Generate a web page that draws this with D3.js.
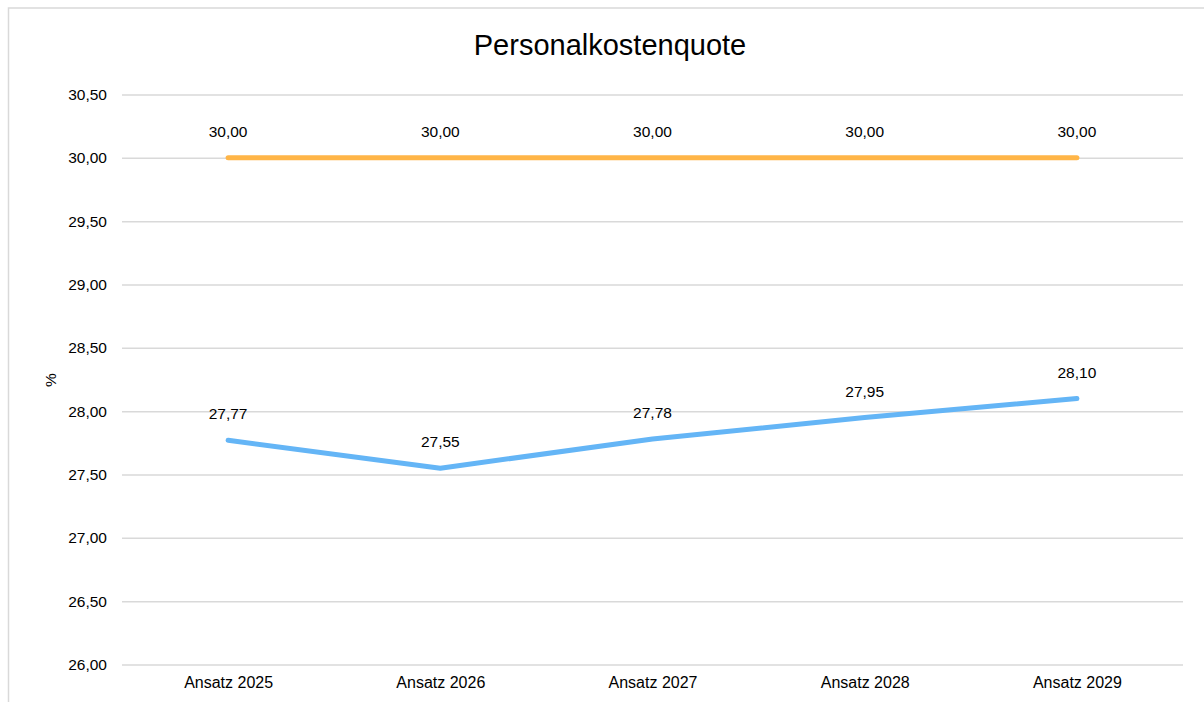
<!DOCTYPE html>
<html>
<head>
<meta charset="utf-8">
<script src="https://cdn.jsdelivr.net/npm/d3@7"></script>
<style>
  html, body { margin: 0; padding: 0; background: #fff; }
  svg { display: block; font-family: "Liberation Sans", Arial, sans-serif; }
</style>
</head>
<body>
<div id="chart"></div>
<script>
// Daten
const categories = ["Ansatz 2025", "Ansatz 2026", "Ansatz 2027", "Ansatz 2028", "Ansatz 2029"];
const istWerte = [27.77, 27.55, 27.78, 27.95, 28.10];
const zielWerte = [30.00, 30.00, 30.00, 30.00, 30.00];
const yTicks = [26.0, 26.5, 27.0, 27.5, 28.0, 28.5, 29.0, 29.5, 30.0, 30.5];

const width = 1204;
const height = 702;
const fontSize = 15.5;
const fmt = v => d3.format(".2f")(v).replace(".", ",");

const svg = d3.select("#chart").append("svg")
    .attr("width", width)
    .attr("height", height);

// Rahmen (läuft rechts und unten aus dem Bild)
svg.append("rect")
    .attr("x", 8.5).attr("y", 8)
    .attr("width", 1300).attr("height", 800)
    .attr("fill", "#fff")
    .attr("stroke", "#d9d9d9")
    .attr("stroke-width", 1.5);

svg.append("text")
    .attr("x", 610).attr("y", 55)
    .attr("text-anchor", "middle")
    .attr("font-size", 29)
    .attr("fill", "#000")
    .text("Personalkostenquote");

const plotLeft = 122, plotRight = 1183;

const xScale = d3.scalePoint()
    .domain(categories)
    .range([plotLeft, plotRight])
    .padding(0.5);

const yScale = d3.scaleLinear()
    .domain([26, 30.5])
    .range([664.5, 94.5]);

// Gitterlinien + y-Achse
const yAxis = svg.append("g")
    .attr("transform", `translate(${plotLeft},0)`)
    .call(d3.axisLeft(yScale).tickValues(yTicks).tickFormat(fmt).tickSize(-(plotRight - plotLeft)).tickPadding(15));
yAxis.select(".domain").remove();
yAxis.selectAll("line").attr("stroke", "#d9d9d9").attr("stroke-width", 1.5);
yAxis.selectAll("text").attr("font-size", fontSize).attr("fill", "#000").attr("font-family", "Liberation Sans, Arial, sans-serif");

// x-Achse
const xAxis = svg.append("g")
    .attr("transform", `translate(0,${yScale(26)})`)
    .call(d3.axisBottom(xScale).tickSize(0).tickPadding(12));
xAxis.select(".domain").remove();
xAxis.selectAll("text").attr("font-size", 16).attr("fill", "#000").attr("font-family", "Liberation Sans, Arial, sans-serif");

svg.append("text")
    .attr("transform", "translate(56,380) rotate(-90)")
    .attr("text-anchor", "middle")
    .attr("font-size", fontSize)
    .text("%");

const line = d3.line()
    .x((d, i) => xScale(categories[i]))
    .y(d => yScale(d));

function drawSeries(values, color) {
    svg.append("path")
        .datum(values)
        .attr("d", line)
        .attr("fill", "none")
        .attr("stroke", color)
        .attr("stroke-width", 5)
        .attr("stroke-linecap", "round")
        .attr("stroke-linejoin", "round");

    svg.selectAll(null)
        .data(values)
        .enter()
        .append("text")
        .attr("x", (d, i) => xScale(categories[i]))
        .attr("y", d => yScale(d) - 21)
        .attr("text-anchor", "middle")
        .attr("font-size", fontSize)
        .attr("fill", "#000")
        .text(fmt);
}

drawSeries(zielWerte, "#ffb547");
drawSeries(istWerte, "#64b5f6");
</script>
</body>
</html>
